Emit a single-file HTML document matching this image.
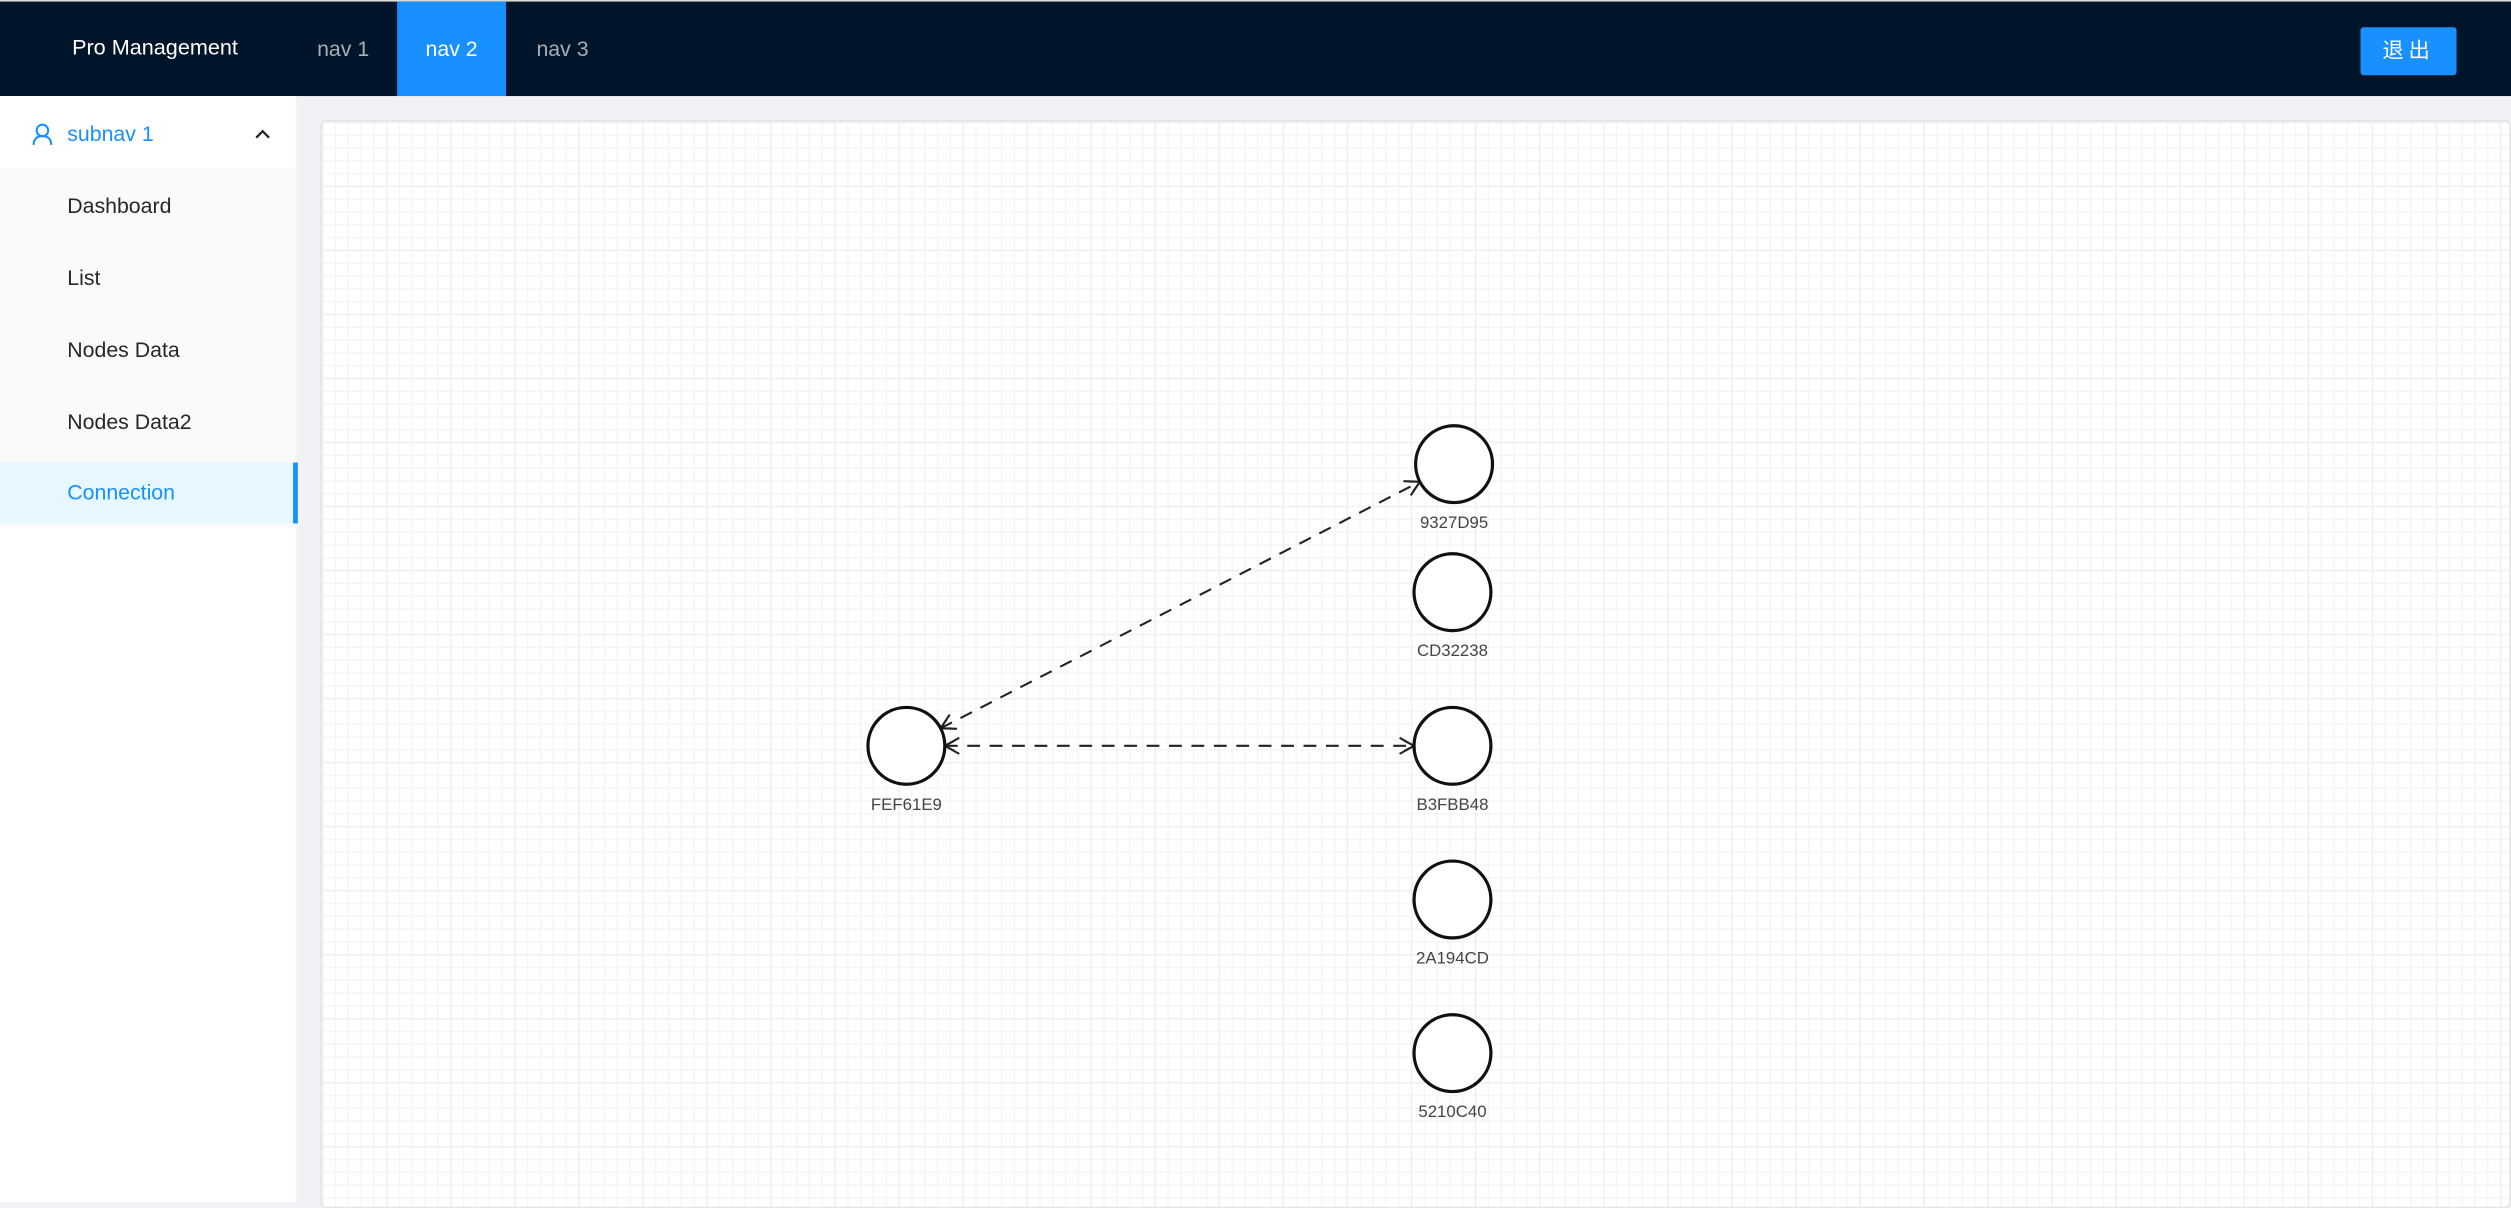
<!DOCTYPE html>
<html><head><meta charset="utf-8">
<style>
html,body{margin:0;padding:0;width:2511px;height:1202px;overflow:hidden;background:#f0f2f5}
#root{position:absolute;left:0;top:0;width:1568px;height:751px;transform:scale(1.60140,1.60053);transform-origin:0 0;font-family:"Liberation Sans","Noto Sans CJK SC",sans-serif;font-size:13.3px}
.hdr{position:absolute;left:0;top:0;width:1568px;height:60px;background:#001529;border-top:1px solid #d9d9d9;box-sizing:border-box}
.title{position:absolute;left:45px;top:21px;color:#fff;font-size:13.5px}
.nav{position:absolute;top:0;height:59px;line-height:59px;color:rgba(255,255,255,.65);padding:0 20px}
.nav.on{background:#1890ff;color:#fff}
.btn{position:absolute;left:1474px;top:16px;width:60px;height:30px;background:#1890ff;color:#fff;border-radius:2px;text-align:center;line-height:30px;letter-spacing:3px}
.side{position:absolute;left:0;top:60px;width:185px;height:691px;background:#fff}
.sub{position:absolute;left:0;top:0;width:185px;height:45px;color:#1890ff}
.menu{position:absolute;left:0;top:45px;width:185px;height:225px;background:#fafafa}
.item{position:absolute;left:0;width:185px;height:38px;line-height:38px;padding-left:42px;box-sizing:border-box;color:rgba(0,0,0,.85)}
.item.on{background:#e6f7ff;color:#1890ff;border-right:3px solid #1890ff;width:186px}
.card{position:absolute;left:200px;top:75px;width:1368px;height:680px;background-color:#fff;border:1px solid #e4e4e4;border-radius:4px;box-sizing:border-box;
background-image:linear-gradient(#f0f0f0 1px,transparent 1px),linear-gradient(90deg,#f0f0f0 1px,transparent 1px),linear-gradient(#f5f5f5 1px,transparent 1px),linear-gradient(90deg,#f5f5f5 1px,transparent 1px);
background-size:40px 40px,40px 40px,8px 8px,8px 8px}
svg{position:absolute;left:0;top:0}
</style></head><body>
<div id="root">
<div class="hdr">
<div class="title">Pro Management</div>
<div class="nav" style="left:178px">nav 1</div>
<div class="nav on" style="left:248px;width:68px;padding:0;text-align:center">nav 2</div>
<div class="nav" style="left:315px">nav 3</div>
<div class="btn">退出</div>
</div>
<div class="side">
<div class="sub">
<svg style="left:20px;top:17px" width="13" height="14" viewBox="0 0 13 14"><circle cx="6.5" cy="4.5" r="3.6" fill="none" stroke="#1890ff" stroke-width="1.3"/><path d="M1 13.5 C1 9.5 3.5 8 6.5 8 C9.5 8 12 9.5 12 13.5" fill="none" stroke="#1890ff" stroke-width="1.3"/></svg>
<span style="position:absolute;left:42px;top:16px">subnav 1</span>
<svg style="left:159px;top:20px" width="10" height="7" viewBox="0 0 10 7"><path d="M1 6 L5 2 L9 6" fill="none" stroke="#222" stroke-width="1.4"/></svg>
</div>
<div class="menu">
<div class="item" style="top:5px">Dashboard</div>
<div class="item" style="top:50px">List</div>
<div class="item" style="top:95px">Nodes Data</div>
<div class="item" style="top:140px">Nodes Data2</div>
<div class="item on" style="top:184px">Connection</div>
</div>
</div>
<div class="card"></div>
<svg id="g" width="1568" height="751">
<defs><marker id="ar" markerWidth="12" markerHeight="12" refX="10" refY="6" orient="auto-start-reverse" markerUnits="userSpaceOnUse"><path d="M1 1 L10 6 L1 11" fill="none" stroke="#222" stroke-width="1.3"/><path d="M4 3 L10 6 L4 9" fill="none" stroke="#222" stroke-width="1"/></marker></defs>
</svg>
</div>
<script>
const nodeIds=["FEF61E9","9327D95","CD32238","B3FBB48","2A194CD","5210C40"];
const nodeX=[566,908,907,907,907,907];
const nodeY=[466,290,370,466,562,658];
const edgeFrom=[0,0];
const edgeTo=[1,3];
const R=24;
const NS="http://www.w3.org/2000/svg";
const g=document.getElementById('g');
for(let i=0;i<edgeFrom.length;i++){
  const a=edgeFrom[i],b=edgeTo[i];
  const dx=nodeX[b]-nodeX[a],dy=nodeY[b]-nodeY[a],d=Math.hypot(dx,dy);
  const l=document.createElementNS(NS,'line');
  
  
  l.setAttribute('x1',nodeX[a]+dx/d*R);l.setAttribute('y1',nodeY[a]+dy/d*R);
  l.setAttribute('x2',nodeX[b]-dx/d*R);l.setAttribute('y2',nodeY[b]-dy/d*R);
  l.setAttribute('stroke','#222');l.setAttribute('stroke-width','1.3');
  l.setAttribute('stroke-dasharray','8 6');
  l.setAttribute('marker-start','url(#ar)');l.setAttribute('marker-end','url(#ar)');
  g.appendChild(l);
}
for(let i=0;i<nodeIds.length;i++){
  const c=document.createElementNS(NS,'circle');
  
  
  c.setAttribute('cx',nodeX[i]);c.setAttribute('cy',nodeY[i]);c.setAttribute('r',R);
  c.setAttribute('fill','#fff');c.setAttribute('stroke','#111');c.setAttribute('stroke-width','2');
  g.appendChild(c);
  const t=document.createElementNS(NS,'text');
  
  
  t.setAttribute('x',nodeX[i]);t.setAttribute('y',nodeY[i]+40);
  t.setAttribute('text-anchor','middle');t.setAttribute('font-size','10.5');t.setAttribute('fill','#444');
  t.setAttribute('font-family','Liberation Sans, sans-serif');
  t.textContent=nodeIds[i];
  g.appendChild(t);
}
</script>
</body></html>
